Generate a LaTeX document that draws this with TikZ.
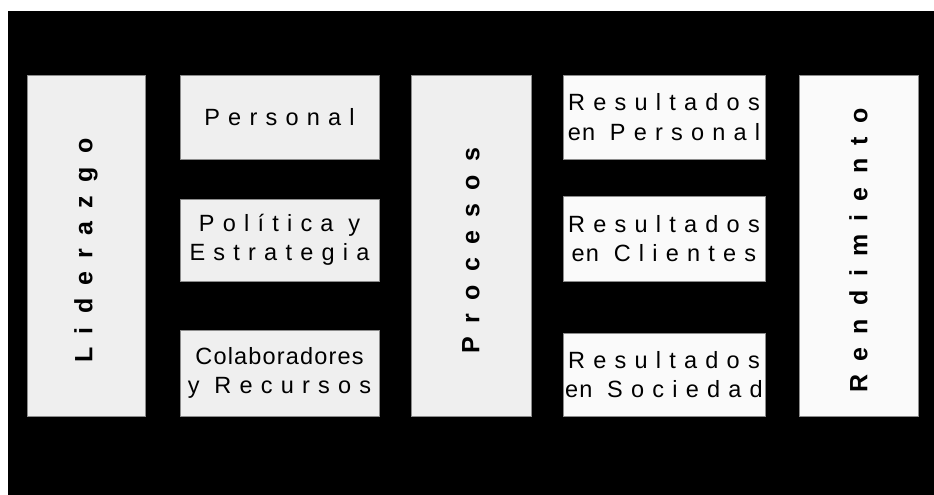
\documentclass[tikz,border=0pt]{standalone}
\usepackage{fontspec}
\setmainfont{Liberation Sans}
\newfontfamily\widefont{Liberation Sans}[LetterSpace=35]
\newfontfamily\tightfont{Liberation Sans}[LetterSpace=5]
\newfontfamily\titlefont{Liberation Sans}[LetterSpace=53]
\newcommand\boxtext{\fontsize{23.5pt}{29.5pt}\widefont}
\newcommand\coltext{\fontsize{25pt}{30pt}\titlefont\bfseries}
\definecolor{boxgray}{HTML}{EFEFEF}
\definecolor{boxwhite}{HTML}{FAFAFA}
\definecolor{edgegray}{HTML}{8C8C8C}
\begin{document}
\begin{tikzpicture}[x=1pt,y=-1pt,
    box/.style={draw=edgegray,line width=0.8pt,fill=boxgray,inner sep=0pt,
      outer sep=0pt,align=center,font=\boxtext},
    resbox/.style={box,fill=boxwhite,minimum width=202pt},
    midbox/.style={box,minimum width=199pt},
    colbox/.style={box,minimum height=341pt},
    collabel/.style={rotate=90,inner sep=0pt,font=\coltext}]
    % Page and black background
    \useasboundingbox (0,0) rectangle (934,495);
    \fill[white] (0,0) rectangle (934,495);
    \fill[black] (8,11) rectangle (934,495);

    % Tall columns
    \node[colbox,minimum width=118pt] (lider) at (86,245.5) {};
    \node[colbox,minimum width=120pt] (proc) at (471,245.5) {};
    \node[colbox,fill=boxwhite,minimum width=119pt] (rend) at (858.5,245.5) {};
    \node[collabel] (liderlbl) at ([yshift=-5pt]lider) {Liderazgo};
    \node[collabel] (proclbl) at ([yshift=-5pt]proc) {Procesos};
    \node[collabel] (rendlbl) at ([yshift=-5pt]rend) {Rendimiento};

    % Enablers
    \node[midbox,minimum height=84pt] (pers) at (279.5,117) {Personal};
    \node[midbox,minimum height=82pt] (polit) at (279.5,240) {Política y\\Estrategia};
    \node[midbox,minimum height=86pt] (colab) at (279.5,373)
      {{\tightfont Colaboradores}\\{\tightfont y}\ Recursos};

    % Results
    \node[resbox,minimum height=84pt] (respers) at (664,117)
      {Resultados\\{\tightfont en}\ Personal};
    \node[resbox,minimum height=85pt] (rescli) at (664,238.5)
      {Resultados\\{\tightfont en}\ Clientes\ };
    \node[resbox,minimum height=83pt] (ressoc) at (664,374.5)
      {Resultados\\{\tightfont en}\ Sociedad};
\end{tikzpicture}
\end{document}
